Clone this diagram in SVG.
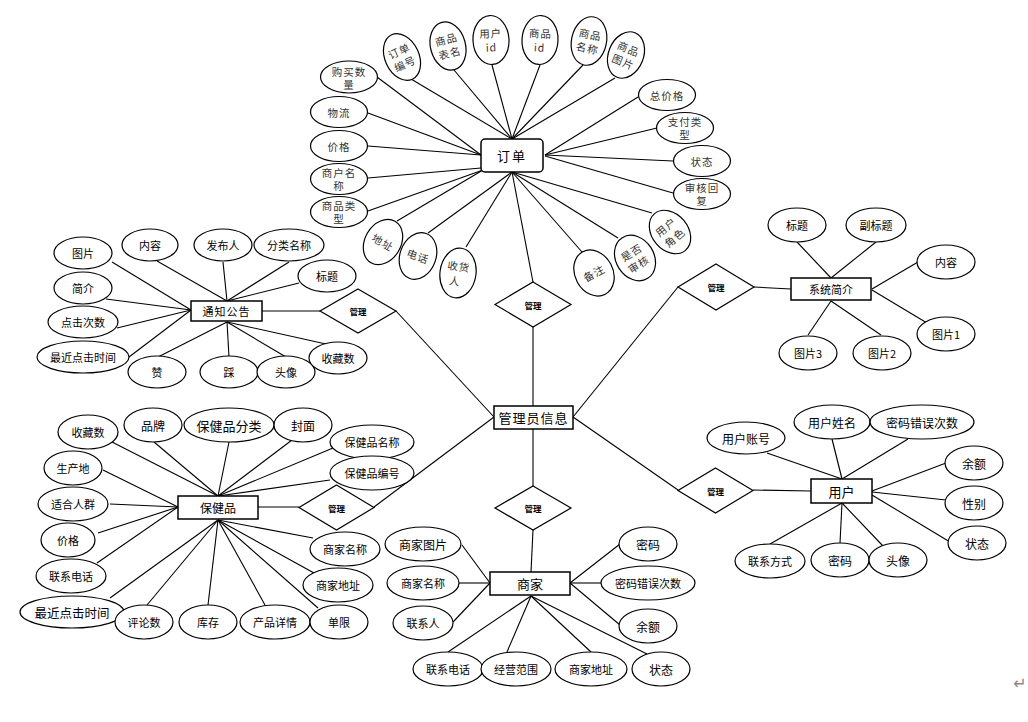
<svg xmlns="http://www.w3.org/2000/svg" width="1028" height="722" viewBox="0 0 1028 722">
<style>
.a{fill:#fff;stroke:#000;stroke-width:1.2}
.e{fill:#fff;stroke:#000;stroke-width:1.5}
.d{fill:#fff;stroke:#000;stroke-width:1.2}
.ln line{stroke:#000;stroke-width:1.1}
text{font-family:"Noto Sans CJK SC","Liberation Sans",sans-serif;text-anchor:middle;dominant-baseline:central;fill:#000}
.o{font-size:10.5px;fill:#333;letter-spacing:1px}
.s11{font-size:11px}
.s12{font-size:12px}
.s13{font-size:13px}
.m{font-size:8.5px;font-weight:bold}
</style>
<rect width="1028" height="722" fill="#fff"/>
<g id="connectors" class="ln">
<line x1="411" y1="79" x2="512" y2="139"/>
<line x1="454" y1="70" x2="512" y2="139"/>
<line x1="492" y1="65" x2="512" y2="139"/>
<line x1="540" y1="65" x2="512" y2="139"/>
<line x1="583" y1="65" x2="512" y2="139"/>
<line x1="615" y1="78" x2="512" y2="139"/>
<line x1="638" y1="97" x2="545" y2="155"/>
<line x1="657" y1="128" x2="545" y2="155"/>
<line x1="673" y1="161" x2="545" y2="155"/>
<line x1="673" y1="193" x2="545" y2="156"/>
<line x1="652" y1="213" x2="512" y2="172"/>
<line x1="618" y1="238" x2="512" y2="172"/>
<line x1="582" y1="252" x2="512" y2="172"/>
<line x1="512" y1="172" x2="533" y2="282"/>
<line x1="466" y1="247" x2="512" y2="172"/>
<line x1="428" y1="233" x2="512" y2="172"/>
<line x1="397" y1="221" x2="483" y2="170"/>
<line x1="368" y1="211" x2="483" y2="170"/>
<line x1="368" y1="178" x2="481" y2="168"/>
<line x1="368" y1="146" x2="481" y2="155"/>
<line x1="368" y1="113" x2="481" y2="155"/>
<line x1="377" y1="77" x2="481" y2="155"/>
<line x1="533" y1="327" x2="533" y2="406"/>
<line x1="533" y1="429" x2="533" y2="486"/>
<line x1="533" y1="530" x2="531" y2="572"/>
<line x1="396" y1="311" x2="494" y2="417"/>
<line x1="374" y1="507" x2="494" y2="417"/>
<line x1="678" y1="287" x2="573" y2="417"/>
<line x1="678" y1="490" x2="573" y2="417"/>
<line x1="754" y1="287" x2="791" y2="289"/>
<line x1="753" y1="490" x2="811" y2="491"/>
<line x1="262" y1="311" x2="320" y2="311"/>
<line x1="258" y1="507" x2="299" y2="507"/>
<line x1="797" y1="242" x2="831" y2="278"/>
<line x1="876" y1="242" x2="831" y2="278"/>
<line x1="918" y1="262" x2="872" y2="289"/>
<line x1="927" y1="323" x2="872" y2="290"/>
<line x1="881" y1="335" x2="831" y2="301"/>
<line x1="808" y1="335" x2="831" y2="301"/>
<line x1="767" y1="453" x2="842" y2="479"/>
<line x1="832" y1="439" x2="842" y2="479"/>
<line x1="908" y1="439" x2="842" y2="479"/>
<line x1="946" y1="463" x2="872" y2="491"/>
<line x1="946" y1="500" x2="872" y2="492"/>
<line x1="950" y1="542" x2="872" y2="495"/>
<line x1="770" y1="544" x2="842" y2="503"/>
<line x1="840" y1="543" x2="842" y2="503"/>
<line x1="883" y1="546" x2="842" y2="503"/>
<line x1="462" y1="545" x2="490" y2="583"/>
<line x1="459" y1="583" x2="490" y2="583"/>
<line x1="453" y1="622" x2="490" y2="583"/>
<line x1="620" y1="544" x2="570" y2="583"/>
<line x1="601" y1="583" x2="570" y2="583"/>
<line x1="620" y1="625" x2="570" y2="583"/>
<line x1="448" y1="652" x2="531" y2="596"/>
<line x1="507" y1="652" x2="531" y2="596"/>
<line x1="591" y1="652" x2="531" y2="596"/>
<line x1="647" y1="654" x2="531" y2="596"/>
<line x1="112" y1="262" x2="191" y2="310"/>
<line x1="157" y1="261" x2="227" y2="301"/>
<line x1="223" y1="262" x2="227" y2="301"/>
<line x1="289" y1="262" x2="227" y2="301"/>
<line x1="299" y1="283" x2="227" y2="301"/>
<line x1="106" y1="299" x2="191" y2="310"/>
<line x1="117" y1="328" x2="191" y2="310"/>
<line x1="129" y1="357" x2="191" y2="310"/>
<line x1="158" y1="357" x2="227" y2="322"/>
<line x1="229" y1="357" x2="227" y2="322"/>
<line x1="286" y1="357" x2="227" y2="322"/>
<line x1="326" y1="344" x2="227" y2="322"/>
<line x1="112" y1="442" x2="218" y2="496"/>
<line x1="154" y1="442" x2="218" y2="496"/>
<line x1="229" y1="442" x2="218" y2="496"/>
<line x1="292" y1="440" x2="218" y2="496"/>
<line x1="333" y1="448" x2="218" y2="496"/>
<line x1="330" y1="480" x2="218" y2="496"/>
<line x1="103" y1="470" x2="178" y2="507"/>
<line x1="110" y1="504" x2="178" y2="507"/>
<line x1="98" y1="533" x2="178" y2="507"/>
<line x1="97" y1="563" x2="178" y2="507"/>
<line x1="110" y1="598" x2="218" y2="520"/>
<line x1="147" y1="605" x2="218" y2="520"/>
<line x1="208" y1="605" x2="218" y2="520"/>
<line x1="265" y1="605" x2="218" y2="520"/>
<line x1="318" y1="608" x2="218" y2="520"/>
<line x1="314" y1="573" x2="218" y2="520"/>
<line x1="313" y1="538" x2="218" y2="520"/>
</g>

<!-- central -->
<g id="admin"><rect class="e" x="494" y="406" width="79" height="23"/><text class="s13" x="533.5" y="417.5" style="letter-spacing:1px">管理员信息</text></g>
<g id="m-order"><polygon class="d" points="533,282 571,304.5 533,327 495,304.5"/><text class="m" x="533" y="304.5">管理</text></g>
<g id="m-shop"><polygon class="d" points="533,486 571,508 533,530 495,508"/><text class="m" x="533" y="508">管理</text></g>
<g id="m-notice"><polygon class="d" points="358,289 396,311 358,333 320,311"/><text class="m" x="358" y="311">管理</text></g>
<g id="m-health"><polygon class="d" points="336.5,485 374,507.5 336.5,530 299,507.5"/><text class="m" x="336.5" y="507.5">管理</text></g>
<g id="m-sys"><polygon class="d" points="716,264 754,287 716,310 678,287"/><text class="m" x="716" y="287">管理</text></g>
<g id="m-user"><polygon class="d" points="715.5,468 753,490.5 715.5,513 678,490.5"/><text class="m" x="715.5" y="490.5">管理</text></g>

<!-- order -->
<g id="order"><rect class="e" x="481" y="139" width="62" height="33" rx="4"/><text class="s13" x="512" y="155.5" style="letter-spacing:2px">订单</text></g>
<g id="o1" transform="translate(402,57) rotate(-25)"><ellipse class="a" rx="17" ry="24.5"/><text class="o" y="-7">订单</text><text class="o" y="7">编号</text></g>
<g id="o2" transform="translate(448,46) rotate(-15)"><ellipse class="a" rx="17.5" ry="24.5"/><text class="o" y="-7">商品</text><text class="o" y="7">表名</text></g>
<g id="o3" transform="translate(491,40) rotate(-3)"><ellipse class="a" rx="18" ry="24.5"/><text class="o" y="-7">用户</text><text class="o" y="7">id</text></g>
<g id="o4" transform="translate(540,40) rotate(3)"><ellipse class="a" rx="18" ry="24.5"/><text class="o" y="-7">商品</text><text class="o" y="7">id</text></g>
<g id="o5" transform="translate(589,41) rotate(12)"><ellipse class="a" rx="17.5" ry="24.5"/><text class="o" y="-7">商品</text><text class="o" y="7">名称</text></g>
<g id="o6" transform="translate(626,55) rotate(22)"><ellipse class="a" rx="17.5" ry="24"/><text class="o" y="-7">商品</text><text class="o" y="7">图片</text></g>
<g id="o7"><ellipse class="a" cx="349" cy="77" rx="28.5" ry="16"/><text class="o" x="349" y="71">购买数</text><text class="o" x="349" y="84">量</text></g>
<g id="o8"><ellipse class="a" cx="339" cy="112" rx="28.5" ry="15.5"/><text class="o" x="339" y="112">物流</text></g>
<g id="o9"><ellipse class="a" cx="339" cy="146" rx="28.5" ry="15.5"/><text class="o" x="339" y="146">价格</text></g>
<g id="o10"><ellipse class="a" cx="339" cy="179" rx="28.5" ry="15.5"/><text class="o" x="339" y="172">商户名</text><text class="o" x="339" y="185">称</text></g>
<g id="o11"><ellipse class="a" cx="339" cy="212" rx="28.5" ry="15.5"/><text class="o" x="339" y="205">商品类</text><text class="o" x="339" y="218">型</text></g>
<g id="o12" transform="translate(383,242) rotate(30)"><ellipse class="a" rx="18" ry="24"/><text class="o">地址</text></g>
<g id="o13" transform="translate(418,256) rotate(20)"><ellipse class="a" rx="18" ry="24"/><text class="o">电话</text></g>
<g id="o14" transform="translate(458,273) rotate(8)"><ellipse class="a" rx="18" ry="25"/><text class="o" y="-7">收货</text><text class="o" y="8" x="-2">人</text></g>
<g id="o15" transform="translate(594,273) rotate(-28)"><ellipse class="a" rx="19" ry="24"/><text class="o">备注</text></g>
<g id="o16" transform="translate(635,258) rotate(-32)"><ellipse class="a" rx="19" ry="24"/><text class="o" y="-7">是否</text><text class="o" y="7">审核</text></g>
<g id="o17" transform="translate(670,232) rotate(-40)"><ellipse class="a" rx="18" ry="24"/><text class="o" y="-7">用户</text><text class="o" y="7">角色</text></g>
<g id="o18"><ellipse class="a" cx="667" cy="95" rx="28.5" ry="15.5"/><text class="o" x="667" y="95">总价格</text></g>
<g id="o19"><ellipse class="a" cx="685" cy="128" rx="28.5" ry="15.5"/><text class="o" x="685" y="121">支付类</text><text class="o" x="685" y="134">型</text></g>
<g id="o20"><ellipse class="a" cx="702" cy="161" rx="28.5" ry="15.5"/><text class="o" x="702" y="161">状态</text></g>
<g id="o21"><ellipse class="a" cx="702" cy="194" rx="28.5" ry="15.5"/><text class="o" x="702" y="187">审核回</text><text class="o" x="702" y="200">复</text></g>

<!-- notice -->
<g id="notice"><rect class="e" x="191" y="301" width="71" height="20"/><text class="s11" x="226.5" y="311" style="letter-spacing:1px">通知公告</text></g>
<g id="n1"><ellipse class="a" cx="83" cy="253" rx="29" ry="16"/><text class="s11" x="83" y="253">图片</text></g>
<g id="n2"><ellipse class="a" cx="150" cy="245" rx="28" ry="16"/><text class="s11" x="150" y="245">内容</text></g>
<g id="n3"><ellipse class="a" cx="223" cy="245" rx="29" ry="16"/><text class="s11" x="223" y="245">发布人</text></g>
<g id="n4"><ellipse class="a" cx="289" cy="245" rx="35" ry="16"/><text class="s11" x="289" y="245">分类名称</text></g>
<g id="n5"><ellipse class="a" cx="327" cy="276" rx="29" ry="16"/><text class="s11" x="327" y="276">标题</text></g>
<g id="n6"><ellipse class="a" cx="83" cy="288" rx="29" ry="16"/><text class="s11" x="83" y="288">简介</text></g>
<g id="n7"><ellipse class="a" cx="83" cy="322" rx="35" ry="16"/><text class="s11" x="83" y="322">点击次数</text></g>
<g id="n8"><ellipse class="a" cx="83" cy="357" rx="46" ry="16"/><text class="s11" x="83" y="357">最近点击时间</text></g>
<g id="n9"><ellipse class="a" cx="157" cy="372" rx="29" ry="16"/><text class="s11" x="157" y="372">赞</text></g>
<g id="n10"><ellipse class="a" cx="229" cy="372" rx="29" ry="16"/><text class="s11" x="229" y="372">踩</text></g>
<g id="n11"><ellipse class="a" cx="286" cy="372" rx="29" ry="16"/><text class="s11" x="286" y="372">头像</text></g>
<g id="n12"><ellipse class="a" cx="338" cy="358" rx="29" ry="16"/><text class="s11" x="338" y="358">收藏数</text></g>

<!-- health -->
<g id="health"><rect class="e" x="178" y="496" width="80" height="23"/><text class="s12" x="218" y="507.5">保健品</text></g>
<g id="h1"><ellipse class="a" cx="88" cy="432" rx="30" ry="17"/><text class="s11" x="88" y="432">收藏数</text></g>
<g id="h2"><ellipse class="a" cx="153" cy="425" rx="29" ry="17"/><text class="s12" x="153" y="425">品牌</text></g>
<g id="h3"><ellipse class="a" cx="229" cy="425" rx="45" ry="17"/><text class="s13" x="229" y="425">保健品分类</text></g>
<g id="h4"><ellipse class="a" cx="303" cy="425" rx="29" ry="17"/><text class="s12" x="303" y="425">封面</text></g>
<g id="h5"><ellipse class="a" cx="372" cy="442" rx="42" ry="17"/><text class="s11" x="372" y="442">保健品名称</text></g>
<g id="h6"><ellipse class="a" cx="372" cy="473" rx="42" ry="17"/><text class="s11" x="372" y="473">保健品编号</text></g>
<g id="h7"><ellipse class="a" cx="73" cy="468" rx="29" ry="17"/><text class="s11" x="73" y="468">生产地</text></g>
<g id="h8"><ellipse class="a" cx="73" cy="504" rx="35" ry="17"/><text class="s11" x="73" y="504">适合人群</text></g>
<g id="h9"><ellipse class="a" cx="68" cy="540" rx="27" ry="17"/><text class="s11" x="68" y="540">价格</text></g>
<g id="h10"><ellipse class="a" cx="71" cy="576" rx="35" ry="17"/><text class="s11" x="71" y="576">联系电话</text></g>
<g id="h11"><ellipse class="a" cx="72" cy="612" rx="52" ry="16"/><text x="72" y="612" style="font-size:12.5px">最近点击时间</text></g>
<g id="h12"><ellipse class="a" cx="144" cy="622" rx="29" ry="17"/><text class="s11" x="144" y="622">评论数</text></g>
<g id="h13"><ellipse class="a" cx="208" cy="622" rx="29" ry="17"/><text class="s11" x="208" y="622">库存</text></g>
<g id="h14"><ellipse class="a" cx="275" cy="622" rx="35" ry="17"/><text class="s11" x="275" y="622">产品详情</text></g>
<g id="h15"><ellipse class="a" cx="339" cy="622" rx="29" ry="17"/><text class="s11" x="339" y="622">单限</text></g>
<g id="h16"><ellipse class="a" cx="345" cy="549" rx="35" ry="17"/><text class="s11" x="345" y="549">商家名称</text></g>
<g id="h17"><ellipse class="a" cx="338" cy="585" rx="35" ry="17"/><text class="s11" x="338" y="585">商家地址</text></g>

<!-- shop -->
<g id="shop"><rect class="e" x="490" y="572" width="80" height="23"/><text class="s13" x="530" y="583.5">商家</text></g>
<g id="s1"><ellipse class="a" cx="423" cy="544" rx="38" ry="17"/><text class="s12" x="423" y="544">商家图片</text></g>
<g id="s2"><ellipse class="a" cx="423" cy="583" rx="36" ry="17"/><text class="s11" x="423" y="583">商家名称</text></g>
<g id="s3"><ellipse class="a" cx="423" cy="623" rx="30" ry="17"/><text class="s11" x="423" y="623">联系人</text></g>
<g id="s4"><ellipse class="a" cx="648" cy="544" rx="29" ry="17"/><text class="s12" x="648" y="544">密码</text></g>
<g id="s5"><ellipse class="a" cx="648" cy="583" rx="47" ry="17"/><text class="s11" x="648" y="583">密码错误次数</text></g>
<g id="s6"><ellipse class="a" cx="648" cy="626" rx="29" ry="17"/><text class="s12" x="648" y="626">余额</text></g>
<g id="s7"><ellipse class="a" cx="448" cy="669" rx="35" ry="17"/><text class="s11" x="448" y="669">联系电话</text></g>
<g id="s8"><ellipse class="a" cx="516" cy="669" rx="35" ry="17"/><text class="s11" x="516" y="669">经营范围</text></g>
<g id="s9"><ellipse class="a" cx="591" cy="669" rx="36" ry="17"/><text class="s11" x="591" y="669">商家地址</text></g>
<g id="s10"><ellipse class="a" cx="661" cy="669" rx="29" ry="17"/><text class="s12" x="661" y="669">状态</text></g>

<!-- system -->
<g id="sys"><rect class="e" x="791" y="278" width="80" height="22"/><text class="s11" x="831" y="289">系统简介</text></g>
<g id="y1"><ellipse class="a" cx="797" cy="225" rx="29" ry="17"/><text class="s11" x="797" y="225">标题</text></g>
<g id="y2"><ellipse class="a" cx="876" cy="225" rx="30" ry="17"/><text class="s11" x="876" y="225">副标题</text></g>
<g id="y3"><ellipse class="a" cx="946" cy="262" rx="29" ry="17"/><text class="s11" x="946" y="262">内容</text></g>
<g id="y4"><ellipse class="a" cx="946" cy="334" rx="29" ry="17"/><text class="s11" x="946" y="334">图片1</text></g>
<g id="y5"><ellipse class="a" cx="882" cy="353" rx="29" ry="17"/><text class="s11" x="882" y="353">图片2</text></g>
<g id="y6"><ellipse class="a" cx="808" cy="353" rx="29" ry="17"/><text class="s11" x="808" y="353">图片3</text></g>

<!-- user -->
<g id="user"><rect class="e" x="811" y="479" width="61" height="24"/><text class="s13" x="841.5" y="491">用户</text></g>
<g id="u1"><ellipse class="a" cx="746" cy="438" rx="39" ry="16"/><text class="s12" x="746" y="438">用户账号</text></g>
<g id="u2"><ellipse class="a" cx="832" cy="422" rx="38" ry="17"/><text class="s12" x="832" y="422">用户姓名</text></g>
<g id="u3"><ellipse class="a" cx="922" cy="422" rx="52" ry="17"/><text class="s12" x="922" y="422">密码错误次数</text></g>
<g id="u4"><ellipse class="a" cx="974" cy="463" rx="29" ry="17"/><text class="s12" x="974" y="463">余额</text></g>
<g id="u5"><ellipse class="a" cx="974" cy="503" rx="29" ry="17"/><text class="s12" x="974" y="503">性别</text></g>
<g id="u6"><ellipse class="a" cx="977" cy="543" rx="29" ry="17"/><text class="s12" x="977" y="543">状态</text></g>
<g id="u7"><ellipse class="a" cx="770" cy="561" rx="35" ry="17"/><text class="s11" x="770" y="561">联系方式</text></g>
<g id="u8"><ellipse class="a" cx="840" cy="560" rx="29" ry="17"/><text class="s12" x="840" y="560">密码</text></g>
<g id="u9"><ellipse class="a" cx="898" cy="560" rx="29" ry="17"/><text class="s12" x="898" y="560">头像</text></g>

<text x="1020" y="683" style="font-family:'DejaVu Sans',sans-serif;font-size:16px;fill:#888">↵</text>
</svg>
